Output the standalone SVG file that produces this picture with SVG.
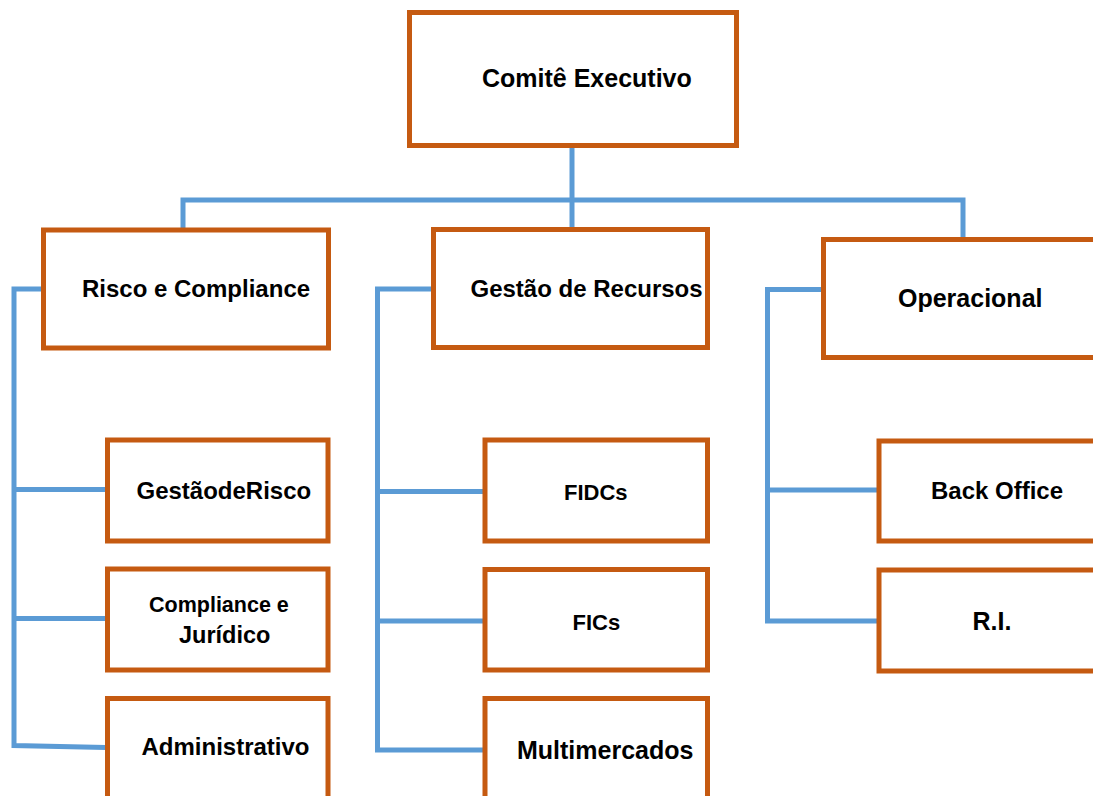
<svg xmlns="http://www.w3.org/2000/svg" width="1093" height="796" viewBox="0 0 1093 796">
<style>
.box{fill:#FFFFFF;stroke:#C55A11;stroke-width:5}
.lbl{font-family:"Liberation Sans",Arial,sans-serif;font-weight:bold;fill:#000000}
.con{fill:none;stroke:#5B9BD5;stroke-width:5}
</style>
<rect width="1093" height="796" fill="#FFFFFF"/>
<g id="connectors">
<path class="con" d="M572,146 V239"/>
<path class="con" d="M183,239 V200 H963 V239"/>
<path class="con" d="M43,289 H14 V745.5 L106,747.5"/>
<path class="con" d="M14,489.5 H106"/>
<path class="con" d="M14,618.5 H106"/>
<path class="con" d="M433,289 H377.5 V750 H484"/>
<path class="con" d="M377.5,491.5 H484"/>
<path class="con" d="M377.5,621 H484"/>
<path class="con" d="M822,289.5 H767.5 V621 H878"/>
<path class="con" d="M767.5,490 H878"/>
</g>
<g id="n-comite">
<rect class="box" x="409.5" y="12.5" width="327" height="133"/>
<text class="lbl" x="482" y="87" font-size="25">Comitê Executivo</text>
</g>
<g id="n-risco">
<rect class="box" x="43.5" y="230" width="285" height="118"/>
<text class="lbl" x="82" y="297" font-size="24">Risco e Compliance</text>
</g>
<g id="n-gestao-recursos">
<rect class="box" x="433.5" y="229.5" width="274" height="118"/>
<text class="lbl" x="470.5" y="296.5" font-size="24">Gestão de Recursos</text>
</g>
<g id="n-operacional">
<rect class="box" x="823.5" y="239.5" width="280" height="118"/>
<text class="lbl" x="898" y="306.5" font-size="25">Operacional</text>
</g>
<g id="n-gestao-risco">
<rect class="box" x="107.5" y="440" width="220.5" height="101"/>
<text class="lbl" x="136.5" y="498.5" font-size="24">GestãodeRisco</text>
</g>
<g id="n-compliance-juridico">
<rect class="box" x="107.5" y="569" width="220.5" height="101"/>
<text class="lbl" x="149" y="611.5" font-size="21.5">Compliance e</text>
<text class="lbl" x="179" y="642.5" font-size="23.5">Jurídico</text>
</g>
<g id="n-administrativo">
<rect class="box" x="107.5" y="698.5" width="220.5" height="110"/>
<text class="lbl" x="141.5" y="755" font-size="24">Administrativo</text>
</g>
<g id="n-fidcs">
<rect class="box" x="485" y="440" width="222.5" height="101"/>
<text class="lbl" x="564" y="500" font-size="22">FIDCs</text>
</g>
<g id="n-fics">
<rect class="box" x="485" y="569.5" width="222.5" height="100.5"/>
<text class="lbl" x="572.5" y="629.5" font-size="22">FICs</text>
</g>
<g id="n-multimercados">
<rect class="box" x="485" y="698.5" width="222.5" height="110"/>
<text class="lbl" x="517" y="758.5" font-size="25">Multimercados</text>
</g>
<g id="n-back-office">
<rect class="box" x="879" y="441" width="224" height="100"/>
<text class="lbl" x="931" y="498.5" font-size="24">Back Office</text>
</g>
<g id="n-ri">
<rect class="box" x="879" y="570" width="224" height="101"/>
<text class="lbl" x="972.5" y="629.5" font-size="25">R.I.</text>
</g>
</svg>
